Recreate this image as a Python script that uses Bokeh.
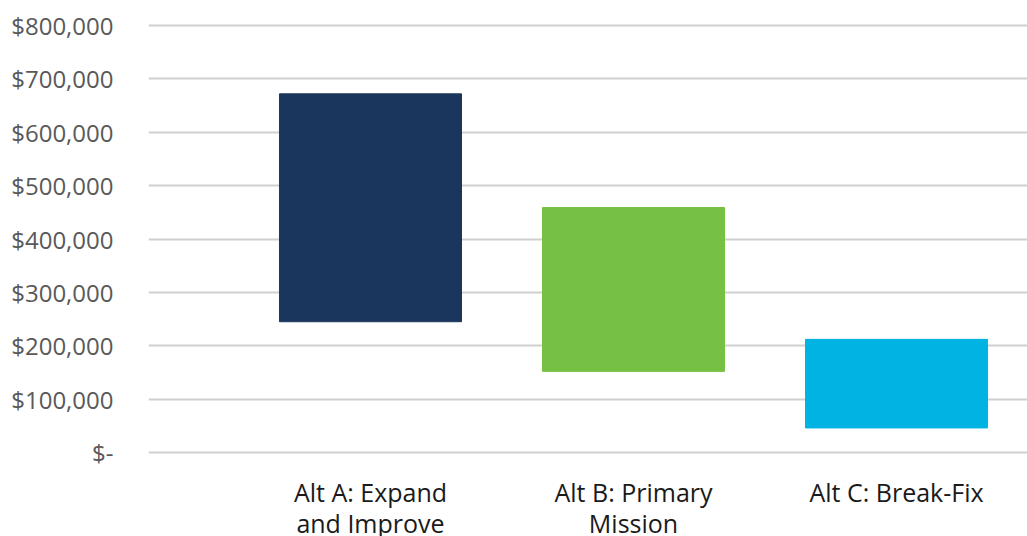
from bokeh.plotting import figure
from bokeh.models import ColumnDataSource, Range1d, FixedTicker
from bokeh.embed import file_html
from bokeh.resources import INLINE

categories = ["Alt A: Expand\nand Improve", "Alt B: Primary\nMission", "Alt C: Break-Fix"]
low_values = [245000, 152000, 46000]
high_values = [672000, 459000, 212000]
bar_colors = ["#1b365d", "#76c043", "#00b3e3"]
y_ticks = [0, 100000, 200000, 300000, 400000, 500000, 600000, 700000, 800000]
y_tick_labels = ["$-", "$100,000", "$200,000", "$300,000", "$400,000",
                 "$500,000", "$600,000", "$700,000", "$800,000"]

xs = list(range(len(categories)))
src = ColumnDataSource(dict(x=xs, bottom=low_values, top=high_values, color=bar_colors))

p = figure(frame_width=879, frame_height=440, output_backend="svg", toolbar_location=None,
           x_range=Range1d(-0.844, 2.498), y_range=Range1d(-14988, 809368),
           min_border_left=148, min_border_right=0, min_border_top=20, min_border_bottom=4)
p.vbar(x="x", bottom="bottom", top="top", width=0.692, color="color", source=src)

p.outline_line_color = None
p.xgrid.grid_line_color = None
p.ygrid.grid_line_color = "#d0d0d0"
p.ygrid.grid_line_width = 2
p.ygrid.ticker = FixedTicker(ticks=y_ticks)

p.yaxis.ticker = FixedTicker(ticks=y_ticks)
p.yaxis.major_label_overrides = {t: l for t, l in zip(y_ticks, y_tick_labels)}
p.yaxis.axis_line_color = None
p.yaxis.major_tick_line_color = None
p.yaxis.minor_tick_line_color = None
p.yaxis.major_tick_out = 0
p.yaxis.major_label_standoff = 35
p.yaxis.major_label_text_font = "Open Sans"
p.yaxis.major_label_text_font_size = "24px"
p.yaxis.major_label_text_color = "#595959"

p.xaxis.ticker = FixedTicker(ticks=xs)
p.xaxis.major_label_overrides = {i: c for i, c in zip(xs, categories)}
p.xaxis.axis_line_color = None
p.xaxis.major_tick_line_color = None
p.xaxis.minor_tick_line_color = None
p.xaxis.major_tick_out = 0
p.xaxis.major_label_standoff = 14
p.xaxis.major_label_text_font = "Open Sans"
p.xaxis.major_label_text_font_size = "25px"
p.xaxis.major_label_text_line_height = 0.92
p.xaxis.major_label_text_color = "#1a1a1a"

open("out.html", "w").write(file_html(p, INLINE))
